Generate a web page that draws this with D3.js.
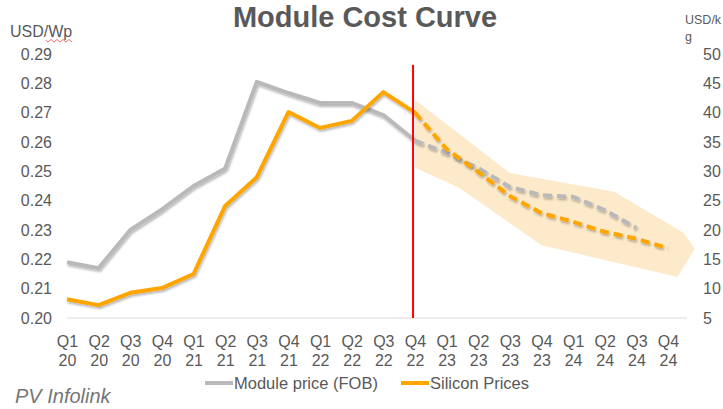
<!DOCTYPE html>
<html>
<head>
<meta charset="utf-8">
<script src="https://cdn.jsdelivr.net/npm/d3@7"></script>
<style>
  body { margin: 0; background: #ffffff; }
  text { font-family: "Liberation Sans", Arial, sans-serif; }
</style>
</head>
<body>
<script>
// quarters on the x axis
var quarters = ["Q1 20","Q2 20","Q3 20","Q4 20","Q1 21","Q2 21","Q3 21","Q4 21",
  "Q1 22","Q2 22","Q3 22","Q4 22","Q1 23","Q2 23","Q3 23","Q4 23",
  "Q1 24","Q2 24","Q3 24","Q4 24"];

// module price USD/Wp (left axis), actual Q1 20 -> Q4 22, forecast Q4 22 -> Q3 24
var moduleActual = [0.219, 0.217, 0.230, 0.237, 0.245, 0.251, 0.2805, 0.2767, 0.2733, 0.2733, 0.2692, 0.2605];
var moduleForecast = [0.2605, 0.2563, 0.2511, 0.2447, 0.2419, 0.2413, 0.2368, 0.2307];

// silicon price USD/kg (right axis), actual Q1 20 -> Q4 22, forecast Q4 22 -> Q4 24
var siliconActual = [8.2, 7.2, 9.3, 10.1, 12.5, 24.1, 29.0, 40.1, 37.4, 38.6, 43.5, 40.0];
var siliconForecast = [40.0, 33.8, 29.9, 25.8, 22.9, 21.4, 19.7, 18.5, 16.9];

// shaded range around the forecast: [quarter index, USD/kg]
var bandUpper = [[11, 42.2], [14, 29.7], [17.3, 26.5], [19.5, 19.5], [19.85, 16.8]];
var bandLower = [[19.3, 12.0], [15, 17.4], [12.4, 27.2], [11, 30.6]];

// axis ticks
var leftTicks = [0.20, 0.21, 0.22, 0.23, 0.24, 0.25, 0.26, 0.27, 0.28, 0.29];
var rightTicks = [5, 10, 15, 20, 25, 30, 35, 40, 45, 50];

var forecastStart = 10.94;   // red divider, in quarter units
var dividerTop = 0.2863;     // top of divider on the left axis

var w = 723, h = 409;
var textColor = "#595959";
var grey = "#b9b9b9", orange = "#ffa500";

var svg = d3.select("body").append("svg")
  .attr("width", w)
  .attr("height", h);

// soft shadow like the excel lines
var defs = svg.append("defs");
defs.append("filter")
  .attr("id", "shadow")
  .attr("x", "-10%").attr("y", "-10%")
  .attr("width", "120%").attr("height", "130%")
  .append("feDropShadow")
  .attr("dx", 1).attr("dy", 2)
  .attr("stdDeviation", 1.3)
  .attr("flood-color", "#000")
  .attr("flood-opacity", 0.28);

// scales
var x = d3.scaleLinear().domain([0, quarters.length - 1]).range([67, 668]);
var yLeft = d3.scaleLinear().domain([0.20, 0.29]).range([318, 54]);
var yRight = d3.scaleLinear().domain([5, 50]).range([318, 54]);

// title
svg.append("text")
  .attr("x", 365)
  .attr("y", 27)
  .attr("text-anchor", "middle")
  .style("font-size", "29px")
  .style("font-weight", "bold")
  .style("fill", textColor)
  .text("Module Cost Curve");

// unit labels
svg.append("text")
  .attr("x", 10).attr("y", 37)
  .style("font-size", "16px")
  .style("fill", textColor)
  .text("USD/Wp");
// spellcheck squiggle under "Wp"
var sq = d3.path();
sq.moveTo(46, 40);
for (var k = 0; k < 9; k++) {
  sq.lineTo(48 + k * 3, k % 2 == 0 ? 42 : 39.5);
}
svg.append("path")
  .attr("d", sq.toString())
  .attr("fill", "none")
  .attr("stroke", "#e05050")
  .attr("stroke-width", 0.8);

svg.append("text")
  .attr("x", 685).attr("y", 24)
  .style("font-size", "12.5px")
  .style("fill", textColor)
  .text("USD/k");
svg.append("text")
  .attr("x", 685).attr("y", 41)
  .style("font-size", "12.5px")
  .style("fill", textColor)
  .text("g");

// axes
var gLeft = svg.append("g")
  .attr("transform", "translate(55,0)")
  .call(d3.axisLeft(yLeft).tickValues(leftTicks).tickSize(0).tickPadding(3).tickFormat(d3.format(".2f")));
var gRight = svg.append("g")
  .attr("transform", "translate(700,0)")
  .call(d3.axisRight(yRight).tickValues(rightTicks).tickSize(0).tickPadding(3));
[gLeft, gRight].forEach(function(g){
  g.select(".domain").remove();
  g.selectAll("text")
    .style("font-size", "16px")
    .style("font-family", "'Liberation Sans', Arial, sans-serif")
    .style("fill", textColor);
});

// baseline
svg.append("line")
  .attr("x1", x(0)).attr("x2", 687)
  .attr("y1", yLeft(0.20)).attr("y2", yLeft(0.20))
  .attr("stroke", "#d9d9d9")
  .attr("stroke-width", 1.2);

// category labels on two lines
var gx = svg.append("g")
  .attr("transform", "translate(0,327)")
  .call(d3.axisBottom(x).tickValues(d3.range(quarters.length)).tickSize(0).tickPadding(0).tickFormat(""));
gx.select(".domain").remove();
gx.selectAll(".tick text").remove();
gx.selectAll(".tick").each(function(d){
  var parts = quarters[d].split(" ");
  var t = d3.select(this).append("text")
    .attr("text-anchor", "middle")
    .style("font-size", "16px")
    .style("fill", textColor);
  t.append("tspan").attr("x", 0).attr("y", 20).text(parts[0]);
  t.append("tspan").attr("x", 0).attr("y", 39).text(parts[1]);
});

// forecast band
var bandPts = bandUpper.concat(bandLower);
svg.append("path")
  .datum(bandPts)
  .attr("d", d3.line()
    .x(function(d){ return x(d[0]); })
    .y(function(d){ return yRight(d[1]); })
    .curve(d3.curveLinearClosed))
  .attr("fill", "#fdeacb")
  .attr("stroke", "none");

// lines
var start = quarters.length - 1 - (siliconForecast.length - 1);  // index of Q4 22

function drawLine(values, offset, yScale, color, dashed){
  var line = d3.line()
    .x(function(d, i){ return x(i + offset); })
    .y(function(d){ return yScale(d); });
  svg.append("path")
    .datum(values)
    .attr("d", line)
    .attr("fill", "none")
    .attr("stroke", color)
    .attr("stroke-width", 4)
    .attr("stroke-linejoin", "round")
    .attr("stroke-dasharray", dashed ? "9,5" : null)
    .attr("filter", "url(#shadow)");
}

drawLine(moduleActual, 0, yLeft, grey, false);
drawLine(moduleForecast, start, yLeft, grey, true);
drawLine(siliconActual, 0, yRight, orange, false);
drawLine(siliconForecast, start, yRight, orange, true);

// red divider
svg.append("line")
  .attr("x1", x(forecastStart)).attr("x2", x(forecastStart))
  .attr("y1", yLeft(dividerTop)).attr("y2", yLeft(0.20))
  .attr("stroke", "#ff0000")
  .attr("stroke-width", 2);

// legend
var legend = [
  {name: "Module price (FOB)", color: grey, x: 205},
  {name: "Silicon Prices", color: orange, x: 401}
];
var lg = svg.selectAll("g.legend")
  .data(legend)
  .enter()
  .append("g")
  .attr("class", "legend")
  .attr("transform", function(d){ return "translate(" + d.x + ",383)"; });
lg.append("line")
  .attr("x1", 0).attr("x2", 28)
  .attr("stroke", function(d){ return d.color; })
  .attr("stroke-width", 4);
lg.append("text")
  .attr("x", 29)
  .attr("y", 6)
  .style("font-size", "16.5px")
  .style("fill", textColor)
  .text(function(d){ return d.name; });

// source
svg.append("text")
  .attr("x", 15).attr("y", 403)
  .style("font-size", "20px")
  .style("font-style", "italic")
  .style("fill", "#767676")
  .text("PV Infolink");
</script>
</body>
</html>
